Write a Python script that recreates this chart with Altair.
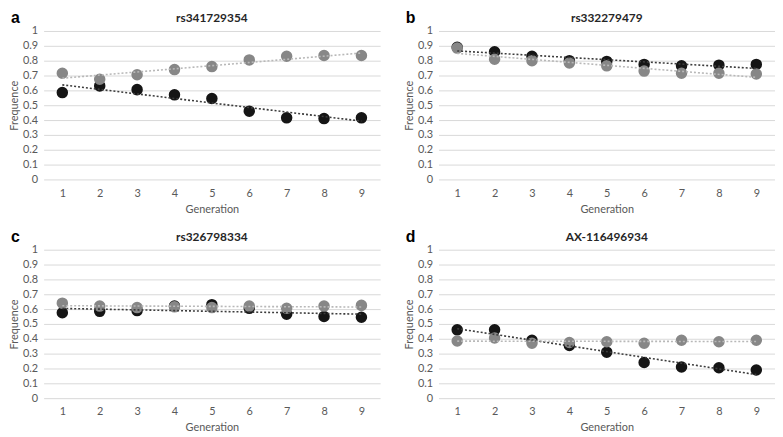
import altair as alt
import pandas as pd

generations = [1, 2, 3, 4, 5, 6, 7, 8, 9]
y_ticks = [0, 0.1, 0.2, 0.3, 0.4, 0.5, 0.6, 0.7, 0.8, 0.9, 1]

letters = ["a", "b", "c", "d"]
titles = ["rs341729354", "rs332279479", "rs326798334", "AX-116496934"]

a_black = [0.585, 0.63, 0.605, 0.57, 0.545, 0.46, 0.415, 0.41, 0.415]
a_grey = [0.715, 0.675, 0.705, 0.74, 0.76, 0.805, 0.83, 0.835, 0.835]

b_black = [0.89, 0.86, 0.83, 0.80, 0.795, 0.775, 0.765, 0.77, 0.775]
b_grey = [0.885, 0.81, 0.80, 0.785, 0.765, 0.73, 0.715, 0.715, 0.71]

c_black = [0.575, 0.585, 0.59, 0.62, 0.63, 0.605, 0.565, 0.55, 0.545]
c_grey = [0.64, 0.62, 0.61, 0.615, 0.61, 0.62, 0.605, 0.62, 0.625]

d_black = [0.46, 0.46, 0.39, 0.355, 0.31, 0.24, 0.21, 0.205, 0.19]
d_grey = [0.385, 0.405, 0.37, 0.375, 0.38, 0.37, 0.39, 0.38, 0.39]

FONT = "Lato"
LABEL_COLOR = "#595959"
W = 340
H = 150


def panel(letter, title, black, grey):
    df = pd.DataFrame({
        "gen": generations * 2,
        "freq": black + grey,
        "series": ["black"] * len(black) + ["grey"] * len(grey),
        "order": [0] * len(black) + [1] * len(grey),
    })
    x = alt.X("gen:Q",
              scale=alt.Scale(domain=[0.5, 9.5], nice=False, zero=False),
              axis=alt.Axis(values=generations, format="d", title="Generation",
                            grid=False, domain=False, ticks=False, labelOverlap=False,
                            labelColor=LABEL_COLOR, titleColor=LABEL_COLOR,
                            labelPadding=8, titlePadding=5))
    y = alt.Y("freq:Q",
              scale=alt.Scale(domain=[0, 1], nice=False),
              axis=alt.Axis(values=y_ticks, format="~g", title="Frequence",
                            grid=True, domain=False, ticks=False, labelOverlap=False,
                            labelColor=LABEL_COLOR, titleColor=LABEL_COLOR,
                            labelPadding=6, titlePadding=3))
    base = alt.Chart(df)
    points = base.mark_circle(size=135, opacity=1).encode(
        x=x, y=y,
        fill=alt.Fill("series:N", scale=alt.Scale(domain=["black", "grey"],
                                                  range=["#151515", "#878787"]),
                      legend=None),
        order=alt.Order("order:Q"),
    )
    lines = base.transform_regression("gen", "freq", groupby=["series"]).mark_line(
        strokeDash=[2, 2], strokeWidth=1.6).encode(
        x=x, y=y,
        stroke=alt.Stroke("series:N", scale=alt.Scale(domain=["black", "grey"],
                                                      range=["#3c3c3c", "#b8b8b8"]),
                          legend=None),
    )
    lab = alt.Chart(pd.DataFrame({"t": [letter]})).mark_text(
        font="Liberation Sans", fontWeight="bold", fontSize=16, align="left",
        baseline="middle", color="#000000").encode(
        text="t:N", x=alt.value(-33), y=alt.value(-13))
    ttl = alt.Chart(pd.DataFrame({"t": [title]})).mark_text(
        font=FONT, fontWeight="bold", fontSize=12, align="center",
        baseline="middle", color="#262626").encode(
        text="t:N", x=alt.value(W / 2), y=alt.value(-13))
    return alt.layer(points, lines, lab, ttl).properties(width=W, height=H)


pa = panel(letters[0], titles[0], a_black, a_grey)
pb = panel(letters[1], titles[1], b_black, b_grey)
pc = panel(letters[2], titles[2], c_black, c_grey)
pd_ = panel(letters[3], titles[3], d_black, d_grey)

chart = alt.vconcat(
    alt.hconcat(pa, pb, spacing=23),
    alt.hconcat(pc, pd_, spacing=23),
    spacing=15,
).properties(padding=0).configure_view(stroke=None).configure_axis(
    labelFont=FONT, titleFont=FONT, labelFontSize=11, titleFontSize=11,
    labelColor=LABEL_COLOR, titleColor=LABEL_COLOR, titleFontWeight="normal",
    gridColor="#d9d9d9", gridWidth=1,
)

chart.save("out.html", embed_options={"renderer": "svg", "actions": False})
